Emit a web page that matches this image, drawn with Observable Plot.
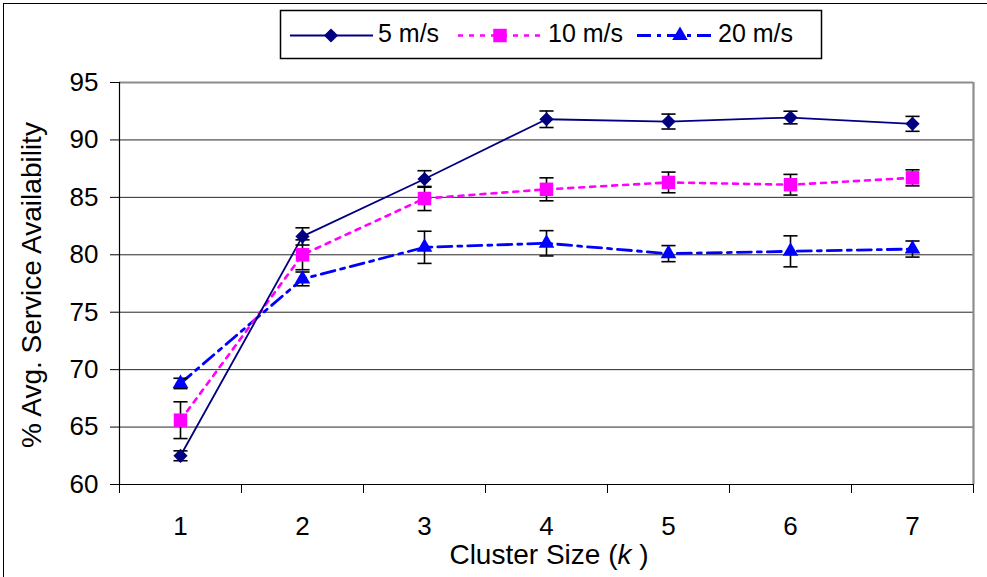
<!DOCTYPE html>
<html>
<head>
<meta charset="utf-8">
<script src="https://cdn.jsdelivr.net/npm/d3@7"></script>
<script src="https://cdn.jsdelivr.net/npm/@observablehq/plot@0.6"></script>
<style>
  html, body { margin: 0; padding: 0; background: #fff; }
  #wrap { position: relative; width: 987px; height: 577px; overflow: hidden; font-family: "Liberation Sans", Arial, sans-serif; }
  #border { position: absolute; left: 3px; top: 3px; width: 1000px; height: 600px; border-left: 1.5px solid #000; border-top: 1.5px solid #000; pointer-events: none; }
  #legend { position: absolute; left: 0; top: 0; }
</style>
</head>
<body>
<div id="wrap">
  <div id="chart"></div>
  <svg id="legend" width="987" height="70"></svg>
  <div id="border"></div>
</div>
<script>
// ---- data ----
const clusterSizes = [1, 2, 3, 4, 5, 6, 7];
const seriesNames = ["5 m/s", "10 m/s", "20 m/s"];
const avail5 = [62.5, 81.6, 86.6, 91.8, 91.6, 91.95, 91.4];
const err5 = [0.43, 0.75, 0.72, 0.72, 0.65, 0.55, 0.65];
const avail10 = [65.6, 80.0, 84.9, 85.7, 86.3, 86.1, 86.7];
const err10 = [1.6, 1.3, 1.05, 1.0, 0.9, 0.9, 0.7];
const avail20 = [68.8, 77.9, 80.65, 81.0, 80.1, 80.3, 80.5];
const err20 = [0.45, 0.6, 1.4, 1.1, 0.7, 1.35, 0.7];
const yTicks = [60, 65, 70, 75, 80, 85, 90, 95];
const xTitle = ["Cluster Size (", "k", " )"];
const yTitle = "% Avg. Service Availability";

// ---- build table ----
const rows = (name, vals, errs) => clusterSizes.map((k, i) => ({series: name, k, v: vals[i], lo: vals[i] - errs[i], hi: vals[i] + errs[i]}));
const d5 = rows(seriesNames[0], avail5, err5);
const d10 = rows(seriesNames[1], avail10, err10);
const d20 = rows(seriesNames[2], avail20, err20);
const all = [...d5, ...d10, ...d20];
const boundaries = [0.5, ...clusterSizes.map(k => k + 0.5)];
const capHalf = 0.058;

const styles = {
  "5 m/s": {stroke: "#000080", strokeWidth: 1.8, dash: null, symbol: "diamond2", r: 6.4, fill: "#000080"},
  "10 m/s": {stroke: "#FF00FF", strokeWidth: 2.6, dash: "5,6", symbol: "square", r: 7.6, fill: "#FF00FF"},
  "20 m/s": {stroke: "#0000FF", strokeWidth: 2.8, dash: "14,6,4,6", symbol: "triangle", r: 5.8, fill: "#0000FF"}
};
const d3sym = {diamond2: d3.symbolDiamond2, square: d3.symbolSquare, triangle: d3.symbolTriangle};

const lineMark = (data) => {
  const s = styles[data[0].series];
  return Plot.line(data, {x: "k", y: "v", stroke: s.stroke, strokeWidth: s.strokeWidth, strokeDasharray: s.dash || undefined});
};
const dotMark = (data) => {
  const s = styles[data[0].series];
  return Plot.dot(data, {x: "k", y: "v", symbol: () => s.symbol, r: s.r, fill: s.fill, stroke: "none"});
};

const chart = Plot.plot({
  width: 987,
  height: 577,
  marginLeft: 119,
  marginRight: 14,
  marginTop: 82,
  marginBottom: 93,
  style: {fontFamily: "'Liberation Sans', Arial, sans-serif", fontSize: "26px", color: "#000", background: "#fff"},
  x: {type: "linear", domain: [0.5, 7.5]},
  y: {domain: [60, 95]},
  symbol: {type: "identity"},
  marks: [
    Plot.ruleY(yTicks.filter(t => t > 60 && t < 95), {stroke: "#000", strokeWidth: 1, strokeOpacity: 0.85}),
    Plot.ruleY([95], {stroke: "#8c8c8c", strokeWidth: 2.2}),
    Plot.ruleX([7.5], {stroke: "#8c8c8c", strokeWidth: 2.2}),
    Plot.ruleX([0.5], {stroke: "#000", strokeWidth: 1.2}),
    Plot.ruleY([60], {stroke: "#000", strokeWidth: 1.2}),
    Plot.axisY({ticks: yTicks, tickSize: 9, tickPadding: 12, label: null, tickFormat: d => String(d), fontSize: 26}),
    Plot.axisX({ticks: clusterSizes, tickSize: 0, tickPadding: 32, label: null, tickFormat: d => String(d), fontSize: 26}),
    Plot.axisX({ticks: boundaries, tickSize: 9, label: null, tickFormat: () => ""}),
    lineMark(d20),
    lineMark(d10),
    lineMark(d5),
    Plot.ruleX(all, {x: "k", y1: "lo", y2: "hi", stroke: "#000", strokeWidth: 1.6}),
    Plot.link(all, {x1: d => d.k - capHalf, x2: d => d.k + capHalf, y1: "hi", y2: "hi", stroke: "#000", strokeWidth: 1.6}),
    Plot.link(all, {x1: d => d.k - capHalf, x2: d => d.k + capHalf, y1: "lo", y2: "lo", stroke: "#000", strokeWidth: 1.6}),
    dotMark(d5),
    dotMark(d10),
    dotMark(d20)
  ]
});
document.getElementById("chart").appendChild(chart);

// axis titles as real text
const svg = d3.select(chart);
const xt = svg.append("text")
  .attr("x", 549).attr("y", 564)
  .attr("text-anchor", "middle")
  .attr("font-size", 28).attr("fill", "#000");
xt.append("tspan").text(xTitle[0]);
xt.append("tspan").attr("font-style", "italic").text(xTitle[1]);
xt.append("tspan").text(xTitle[2]);
svg.append("text")
  .attr("transform", "translate(41,285) rotate(-90)")
  .attr("text-anchor", "middle")
  .attr("font-size", 28).attr("fill", "#000")
  .text(yTitle);

// legend
const legendPos = [
  {x1: 290, x2: 373, mx: 331, tx: 378},
  {x1: 458, x2: 543, mx: 500, tx: 548},
  {x1: 637, x2: 712, mx: 680, tx: 718}
];
const lg = d3.select("#legend").style("font-family", "'Liberation Sans', Arial, sans-serif");
lg.append("rect").attr("x", 280.5).attr("y", 10.5).attr("width", 541).attr("height", 48)
  .attr("fill", "#fff").attr("stroke", "#000").attr("stroke-width", 1.5);
seriesNames.forEach((name, i) => {
  const s = styles[name];
  const p = legendPos[i];
  lg.append("line").attr("x1", p.x1).attr("x2", p.x2).attr("y1", 35.5).attr("y2", 35.5)
    .attr("stroke", s.stroke).attr("stroke-width", s.strokeWidth)
    .attr("stroke-dasharray", s.dash);
  lg.append("path").attr("transform", `translate(${p.mx},35.5)`)
    .attr("d", d3.symbol(d3sym[s.symbol], Math.PI * s.r * s.r)())
    .attr("fill", s.fill);
  lg.append("text").attr("x", p.tx).attr("y", 42).attr("font-size", 25).attr("fill", "#000").text(name);
});
</script>
</body>
</html>
